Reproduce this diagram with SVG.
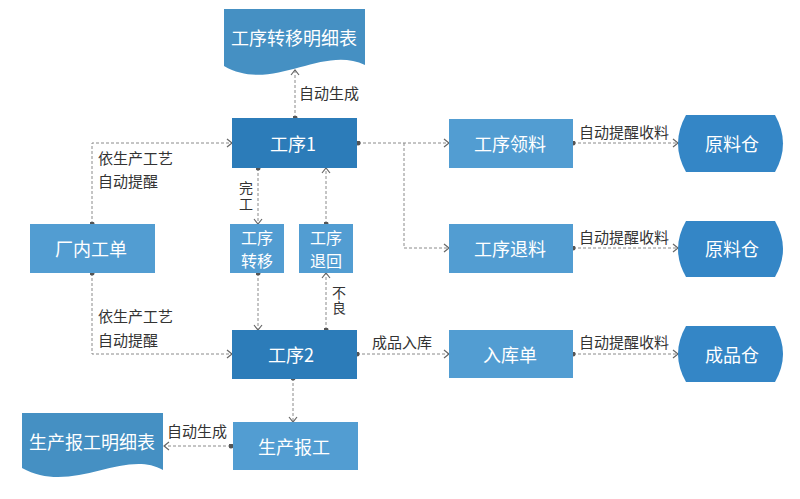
<svg xmlns="http://www.w3.org/2000/svg" width="800" height="499" viewBox="0 0 800 499">
<defs>
<style>
.dk{fill:#2c7cb9}
.lt{fill:#529dd2}
.doc{fill:#4590c3}
.wh{fill:#3486c6}
.bt{font-family:"Noto Sans CJK SC","Liberation Sans",sans-serif;font-size:18px;fill:#fff;text-anchor:middle;dominant-baseline:central}
.bt2{font-family:"Noto Sans CJK SC","Liberation Sans",sans-serif;font-size:16px;fill:#fff;text-anchor:middle;dominant-baseline:central}
.lb{font-family:"Noto Sans CJK SC","Liberation Sans",sans-serif;font-size:15px;fill:#333}
.lv{font-family:"Noto Sans CJK SC","Liberation Sans",sans-serif;font-size:14px;fill:#333;writing-mode:vertical-rl}
.cn{fill:none;stroke:#8a8a8a;stroke-width:1;stroke-dasharray:3 2;marker-start:url(#dot);marker-end:url(#arr)}
.cn2{fill:none;stroke:#8a8a8a;stroke-width:1;stroke-dasharray:3 2;marker-end:url(#arr)}
</style>
<marker id="arr" viewBox="0 0 10 10" refX="9" refY="5" markerWidth="10" markerHeight="10" markerUnits="userSpaceOnUse" orient="auto">
<path d="M4,1 L9,5 L4,9" fill="none" stroke="#666" stroke-width="1.2"/>
</marker>
<marker id="dot" viewBox="0 0 6 6" refX="3" refY="3" markerWidth="5" markerHeight="5" markerUnits="userSpaceOnUse" orient="auto">
<circle cx="3" cy="3" r="3" fill="#555"/>
</marker>
</defs>
<rect width="800" height="499" fill="#fff"/>

<g id="connectors">
<path class="cn" d="M295,118 V70"/>
<path class="cn" d="M92,224 V143 H232"/>
<path class="cn" d="M92,273 V354 H232"/>
<path class="cn" d="M258,168 V224"/>
<path class="cn" d="M326,224 V168"/>
<path class="cn" d="M258,273 V330"/>
<path class="cn" d="M326,330 V273"/>
<path class="cn" d="M358,143 H449"/>
<path class="cn2" d="M404,143 V248 H449"/>
<path class="cn" d="M573,143 H678"/>
<path class="cn" d="M573,248 H678"/>
<path class="cn" d="M357,354 H449"/>
<path class="cn" d="M573,354 H678"/>
<path class="cn" d="M293,378 V422"/>
<path class="cn" d="M231,446 H164"/>
</g>

<g id="labels">
<text class="lb" x="299" y="99">自动生成</text>
<text class="lb" x="98" y="164">依生产工艺</text>
<text class="lb" x="98" y="187">自动提醒</text>
<text class="lb" x="98" y="322">依生产工艺</text>
<text class="lb" x="98" y="346">自动提醒</text>
<text class="lv" x="246" y="181" letter-spacing="2">完工</text>
<text class="lv" x="339" y="286" letter-spacing="1">不良</text>
<text class="lb" x="579" y="138">自动提醒收料</text>
<text class="lb" x="579" y="243">自动提醒收料</text>
<text class="lb" x="579" y="348">自动提醒收料</text>
<text class="lb" x="372" y="348">成品入库</text>
<text class="lb" x="167" y="437">自动生成</text>
</g>

<g id="doc1">
<path class="doc" d="M224,9 H365 V65 C322,44 272,94 224,66 Z"/>
<text class="bt" x="294" y="37">工序转移明细表</text>
</g>
<g id="proc1">
<rect class="dk" x="232" y="118" width="125" height="50"/>
<text class="bt" x="293" y="143">工序1</text>
</g>
<g id="order">
<rect class="lt" x="30" y="224" width="125" height="49"/>
<text class="bt" x="91" y="248">厂内工单</text>
</g>
<g id="transfer">
<rect class="lt" x="230" y="224" width="54" height="49"/>
<text class="bt2" x="257" y="236.5">工序</text>
<text class="bt2" x="257" y="260">转移</text>
</g>
<g id="return">
<rect class="lt" x="299" y="224" width="54" height="49"/>
<text class="bt2" x="326" y="236.5">工序</text>
<text class="bt2" x="326" y="260">退回</text>
</g>
<g id="proc2">
<rect class="dk" x="232" y="330" width="125" height="49"/>
<text class="bt" x="291" y="354">工序2</text>
</g>
<g id="pick">
<rect class="lt" x="449" y="119" width="124" height="49"/>
<text class="bt" x="510" y="143">工序领料</text>
</g>
<g id="back">
<rect class="lt" x="449" y="224" width="124" height="49"/>
<text class="bt" x="510" y="248">工序退料</text>
</g>
<g id="inbound">
<rect class="lt" x="449" y="330" width="124" height="48"/>
<text class="bt" x="510" y="354">入库单</text>
</g>
<g id="wh1">
<path class="wh" d="M686,115 H775 Q791,143.5 775,172 H686 Q670,143.5 686,115 Z"/>
<text class="bt" x="732" y="143">原料仓</text>
</g>
<g id="wh2">
<path class="wh" d="M686,221 H775 Q791,249 775,277 H686 Q670,249 686,221 Z"/>
<text class="bt" x="732" y="248">原料仓</text>
</g>
<g id="wh3">
<path class="wh" d="M686,326 H775 Q791,354 775,382 H686 Q670,354 686,326 Z"/>
<text class="bt" x="732" y="354">成品仓</text>
</g>
<g id="report">
<rect class="lt" x="233" y="422" width="125" height="48"/>
<text class="bt" x="294" y="446">生产报工</text>
</g>
<g id="doc2">
<path class="doc" d="M22,413 H163 V470 C124,448 72,496 22,468 Z"/>
<text class="bt" x="92" y="441">生产报工明细表</text>
</g>
</svg>
